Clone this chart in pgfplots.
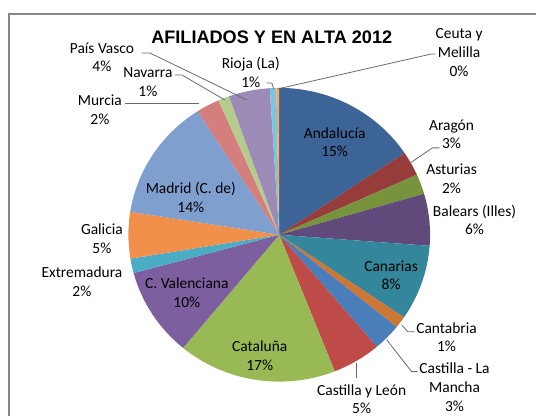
\documentclass[border=0pt]{standalone}
\usepackage{pgfplots}
\pgfplotsset{compat=1.18}
\usepackage{pgfplotstable}
\usepackage{fontspec}
\setmainfont{Carlito}
\newfontfamily\titlefont{Liberation Sans}

% slice colours, clockwise from 12 o'clock
\definecolor{pie0}{HTML}{3C6497}
\definecolor{pie1}{HTML}{963C3A}
\definecolor{pie2}{HTML}{77933C}
\definecolor{pie3}{HTML}{604A7B}
\definecolor{pie4}{HTML}{34879B}
\definecolor{pie5}{HTML}{CC7735}
\definecolor{pie6}{HTML}{4A7EBB}
\definecolor{pie7}{HTML}{BE4B48}
\definecolor{pie8}{HTML}{98B954}
\definecolor{pie9}{HTML}{7D5FA0}
\definecolor{pie10}{HTML}{4BACC6}
\definecolor{pie11}{HTML}{F0904A}
\definecolor{pie12}{HTML}{7F9FCF}
\definecolor{pie13}{HTML}{D47F7D}
\definecolor{pie14}{HTML}{B5CC8E}
\definecolor{pie15}{HTML}{9C8AB7}
\definecolor{pie16}{HTML}{7DC4DC}
\definecolor{pie17}{HTML}{F7A563}
\definecolor{framegray}{HTML}{878787}
\definecolor{leader}{HTML}{6A6A6A}

% share of afiliados (%) per comunidad
\pgfplotstableread{
region pct
Andalucia 15.6
Aragon 2.7
Asturias 2.2
Balears 5.7
Canarias 8.3
Cantabria 1.3
CastillaLaMancha 3.0
CastillaLeon 5.2
Cataluna 17.0
CValenciana 9.8
Extremadura 1.6
Galicia 5.1
Madrid 13.4
Murcia 2.5
Navarra 1.2
PaisVasco 4.4
Rioja 0.7
CeutaMelilla 0.3
}\piedata

\begin{document}
\begin{tikzpicture}[lbl/.style={align=center, font=\fontsize{11.6}{14}\selectfont, inner sep=0pt}]
\begin{axis}[
    x=0.75pt, y=0.75pt, y dir=reverse,
    xmin=0, xmax=537, ymin=0, ymax=416,
    hide axis, clip=false,
]
\pgfplotsextra{
    \path (axis cs:0,0) rectangle (axis cs:537,416);
    \pgfplotstablegetrowsof{\piedata}
    \pgfmathtruncatemacro\nrows{\pgfplotsretval-1}
    \xdef\cum{0}
    \foreach \i in {0,...,\nrows}{
        \pgfplotstablegetelem{\i}{pct}\of\piedata
        \let\p\pgfplotsretval
        \pgfmathsetmacro\a{90-3.6*\cum}
        \pgfmathsetmacro\b{90-3.6*(\cum+\p)}
        \pgfmathsetmacro\c{\cum+\p}
        \xdef\cum{\c}
        \fill[pie\i] (axis cs:279.5,235) -- ++(\a:113.25pt and 110.25pt)
            arc[start angle=\a, end angle=\b, x radius=113.25pt, y radius=110.25pt] -- cycle;
    }
}
% frame
\draw[framegray, line width=0.8pt] (axis cs:9,416) -- (axis cs:9,14) -- (axis cs:537,14);

% title
\node[font=\titlefont\bfseries\fontsize{13.6}{15}\selectfont, inner sep=0pt] at (axis cs:272,37) {AFILIADOS Y EN ALTA 2012};

% leader lines
\draw[leader, line width=0.6pt] (axis cs:142,53) -- (axis cs:150,53) -- (axis cs:247,100);
\draw[leader, line width=0.6pt] (axis cs:175,75) -- (axis cs:182,75) -- (axis cs:225,100);
\draw[leader, line width=0.6pt] (axis cs:125,104) -- (axis cs:199,104);
\draw[leader, line width=0.6pt] (axis cs:267,83) -- (axis cs:272,83) -- (axis cs:274,89);
\draw[leader, line width=0.6pt] (axis cs:436,54) -- (axis cs:432,54) -- (axis cs:278,89);
\draw[leader, line width=0.6pt] (axis cs:411.5,162.5) -- (axis cs:433,148) -- (axis cs:440,148);
\draw[leader, line width=0.6pt] (axis cs:402,325) -- (axis cs:408,332) -- (axis cs:415,332);
\draw[leader, line width=0.6pt] (axis cs:387,340) -- (axis cs:412,372) -- (axis cs:418,372);
\draw[leader, line width=0.6pt] (axis cs:357,363) -- (axis cs:357,378);

% data labels
\node[lbl] at (axis cs:335,142.5) {Andalucía\\15\%};
\node[lbl] at (axis cs:452,134.5) {Aragón\\3\%};
\node[lbl] at (axis cs:452,179) {Asturias\\2\%};
\node[lbl] at (axis cs:475,220) {Balears (Illes)\\6\%};
\node[lbl] at (axis cs:391.5,275.5) {Canarias\\8\%};
\node[lbl] at (axis cs:447,337.5) {Cantabria\\1\%};
\node[lbl] at (axis cs:455,387.5) {Castilla - La\\Mancha\\3\%};
\node[lbl] at (axis cs:362,399.5) {Castilla y León\\5\%};
\node[lbl] at (axis cs:260,356) {Cataluña\\17\%};
\node[lbl] at (axis cs:187,293) {C. Valenciana\\10\%};
\node[lbl] at (axis cs:82,282) {Extremadura\\2\%};
\node[lbl] at (axis cs:102,239) {Galicia\\5\%};
\node[lbl] at (axis cs:191,197.5) {Madrid (C. de)\\14\%};
\node[lbl] at (axis cs:100,110) {Murcia\\2\%};
\node[lbl] at (axis cs:148,82) {Navarra\\1\%};
\node[lbl] at (axis cs:102,57.5) {País Vasco\\4\%};
\node[lbl] at (axis cs:251,72.5) {Rioja (La)\\1\%};
\node[lbl] at (axis cs:459.5,52.5) {Ceuta y\\Melilla\\0\%};
\end{axis}
\end{tikzpicture}
\end{document}
